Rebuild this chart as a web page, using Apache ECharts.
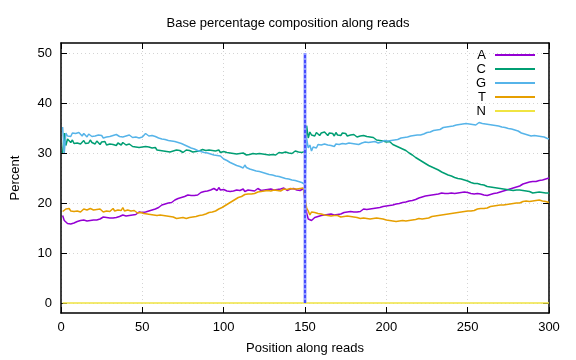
<!DOCTYPE html>
<html>
<head>
<meta charset="utf-8">
<script src="https://cdn.jsdelivr.net/npm/echarts@6/dist/echarts.min.js"></script>
<style>html,body{margin:0;padding:0;background:#fff}#c{width:576px;height:360px}</style>
</head>
<body>
<div id="c"></div>
<script>
const title = 'Base percentage composition along reads';
const xTicks = [0, 50, 100, 150, 200, 250, 300];
const yTicks = [0, 10, 20, 30, 40, 50];
const sepPosition = 150;
const sepRange = [0, 50];

const A = [
17.5,16.5,16.1,15.9,16.0,15.8,16.2,16.0,16.4,16.3,
16.1,16.5,16.2,16.6,16.3,16.4,16.8,16.5,16.7,16.6,
16.9,16.6,17.0,16.8,16.7,17.2,16.9,17.1,17.3,17.0,
17.2,17.0,17.4,17.1,17.5,17.3,17.2,17.6,17.3,17.4,
17.6,17.5,17.8,17.6,17.9,17.7,18.0,18.2,17.9,18.1,
18.3,18.2,18.5,18.4,18.7,18.6,18.9,18.8,19.2,19.1,
19.3,19.6,19.4,19.8,19.7,20.0,20.2,20.1,20.4,20.6,
20.5,20.9,20.8,21.1,21.0,21.3,21.2,21.6,21.4,21.5,
21.7,21.5,21.9,21.6,21.8,22.1,21.9,22.3,22.0,22.4,
22.2,22.6,22.3,22.9,22.7,22.5,23.1,22.6,22.8,22.7,
22.9,22.4,22.7,22.3,22.6,22.4,22.2,22.6,22.3,22.5,
22.4,22.8,22.3,22.4,22.6,22.2,22.5,22.8,22.4,22.7,
22.9,22.6,22.5,22.8,22.6,22.9,22.7,22.5,22.8,22.7,
22.6,22.9,22.7,22.5,22.8,22.6,23.0,22.7,22.5,22.7,
22.8,22.6,22.9,22.7,22.6,22.8,22.5,22.7,22.9,22.8,
18.0,16.8,16.6,16.5,16.8,17.1,16.9,17.3,17.1,17.5,
17.3,17.6,17.4,17.7,17.5,17.8,17.7,17.6,17.9,17.7,
18.0,17.8,17.9,18.1,17.8,18.2,18.0,18.3,18.1,18.2,
18.4,18.2,18.6,18.3,18.5,18.8,18.6,18.7,19.0,18.8,
19.1,18.9,19.2,19.0,19.3,19.1,19.4,19.3,19.6,19.4,
19.6,19.5,19.8,19.6,19.9,19.8,20.1,19.9,20.2,20.1,
20.3,20.2,20.5,20.4,20.6,20.5,20.8,20.7,20.9,21.0,
20.9,21.2,21.1,21.4,21.3,21.5,21.4,21.6,21.5,21.7,
21.6,21.8,21.7,22.0,21.8,21.9,22.1,21.9,22.2,22.0,
22.1,21.9,22.3,22.0,22.2,22.1,21.9,22.2,22.0,22.1,
22.2,21.9,22.0,21.8,21.7,21.9,21.6,21.8,21.5,21.6,
21.7,21.5,21.8,21.7,22.0,21.9,22.1,22.0,22.3,22.2,
22.5,22.4,22.7,22.6,22.9,22.8,23.1,23.0,23.3,23.2,
23.5,23.4,23.6,23.8,23.7,24.0,23.9,24.2,24.1,24.3,
24.5,24.3,24.6,24.5,24.8,24.6,24.9,24.8,25.1,25.0
];
const C = [
30.0,34.0,31.5,32.8,32.4,32.1,32.6,31.9,32.3,32.0,
32.4,31.8,32.2,32.5,31.9,32.3,32.0,32.6,32.1,32.2,
31.8,32.4,32.0,31.7,32.2,31.9,32.3,31.6,32.0,31.8,
32.1,31.7,31.9,31.5,32.0,31.8,31.6,32.1,31.7,31.6,
31.4,31.8,31.5,31.3,31.7,31.2,31.5,31.1,31.4,31.2,
31.0,31.3,30.9,31.2,30.8,31.0,30.7,31.1,30.6,30.8,
30.5,30.9,30.4,30.7,30.3,30.6,30.2,30.5,30.4,30.3,
30.6,30.2,30.5,30.3,30.1,30.4,30.6,30.2,30.5,30.4,
30.2,30.6,30.3,30.1,30.4,30.2,30.7,30.3,30.5,30.4,
30.6,30.2,30.5,30.8,30.4,30.3,30.6,30.1,30.4,30.3,
30.5,30.1,30.4,30.0,30.3,29.9,30.2,29.8,30.1,29.9,
29.7,30.0,29.8,29.6,30.0,29.7,29.5,29.9,29.6,29.8,
29.5,29.9,29.6,29.8,29.4,29.7,29.9,29.6,29.8,29.7,
30.0,29.6,29.9,30.1,29.8,30.0,29.7,30.2,29.9,30.0,
30.3,29.9,30.1,30.4,30.0,30.2,30.5,30.1,30.4,30.3,
35.5,33.0,34.2,33.6,33.9,33.4,34.1,33.7,33.5,34.0,
33.6,34.2,33.8,33.5,34.0,33.7,33.9,33.4,34.1,33.6,
33.8,33.5,34.0,33.7,33.9,33.4,33.8,33.6,33.3,33.7,
33.5,33.2,33.6,33.4,33.1,33.5,33.2,33.3,33.0,33.2,
32.9,33.1,32.8,32.6,32.9,32.5,32.7,32.4,32.5,32.2,
32.1,32.3,31.9,31.7,31.8,31.4,31.5,31.1,31.0,30.8,
30.6,30.5,30.1,30.0,29.7,29.6,29.2,29.1,28.8,28.7,
28.5,28.3,28.1,27.9,27.8,27.5,27.6,27.2,27.1,26.9,
26.8,26.6,26.5,26.2,26.1,25.9,25.8,25.6,25.5,25.4,
25.3,25.1,25.0,24.9,24.7,24.8,24.5,24.6,24.3,24.4,
24.2,24.1,24.0,23.9,23.8,23.9,23.6,23.7,23.5,23.6,
23.4,23.3,23.4,23.2,23.3,23.1,23.2,23.0,23.1,22.9,
23.0,22.8,22.9,22.7,22.8,22.6,22.8,22.5,22.7,22.6,
22.4,22.6,22.3,22.5,22.2,22.4,22.1,22.3,22.2,22.0,
22.3,22.1,22.0,22.2,21.9,22.1,21.8,22.0,21.9,22.0
];
const G = [
35.2,30.0,34.0,33.4,33.7,33.3,34.0,33.6,33.9,33.5,
34.1,33.7,33.4,33.9,33.6,33.2,33.8,33.5,33.3,33.7,
33.4,33.1,33.6,33.3,33.5,33.0,33.4,33.2,33.6,33.3,
33.1,33.5,33.2,33.7,33.4,33.3,33.6,33.2,33.5,33.4,
33.2,33.6,33.3,33.1,33.5,33.2,33.4,33.0,33.3,33.2,
33.5,33.9,34.1,33.4,33.2,33.5,33.1,33.3,32.9,33.0,
33.2,32.8,33.0,32.7,32.9,32.5,32.7,32.4,32.6,32.3,
32.4,32.1,32.2,31.9,32.0,31.6,31.7,31.3,31.4,31.0,
31.1,30.8,30.9,30.5,30.6,30.3,30.4,30.1,30.2,30.0,
30.1,29.8,29.9,29.6,29.7,29.5,29.3,29.4,29.0,28.8,
28.7,28.5,28.3,28.1,28.0,27.8,27.7,27.5,27.4,27.3,
27.2,27.0,27.6,27.1,26.9,26.8,26.9,26.6,26.7,26.4,
26.5,26.3,26.4,26.1,26.2,25.9,26.0,25.7,25.8,25.6,
25.7,25.4,25.5,25.3,25.4,25.1,25.2,24.9,25.0,24.8,
24.9,24.6,24.7,24.5,24.6,24.3,24.4,24.1,23.9,23.7,
33.0,31.0,31.6,30.4,31.2,31.5,31.0,31.7,31.3,31.6,
31.2,31.8,31.4,31.6,31.9,31.5,31.7,31.3,31.8,31.5,
31.7,31.4,31.9,31.6,31.8,31.5,32.0,31.7,31.9,31.6,
31.8,32.1,31.7,31.9,32.0,31.8,32.2,31.9,32.1,32.0,
32.2,31.9,32.3,32.1,32.0,32.4,32.2,32.3,32.5,32.3,
32.4,32.6,32.5,32.7,32.6,32.8,32.7,32.9,33.0,32.8,
33.1,33.0,33.2,33.1,33.4,33.3,33.5,33.4,33.6,33.7,
33.6,33.9,33.8,34.0,34.1,33.9,34.2,34.3,34.5,34.4,
34.6,34.8,34.7,34.9,35.1,34.9,35.2,35.0,35.3,35.2,
35.4,35.3,35.6,35.4,35.7,35.5,35.8,35.6,35.9,35.7,
35.8,36.0,35.7,35.9,35.6,35.8,36.1,35.7,35.9,35.6,
35.8,35.5,35.7,35.4,35.6,35.3,35.5,35.2,35.4,35.1,
35.2,34.9,35.1,34.8,34.9,34.6,34.8,34.5,34.6,34.3,
34.4,34.2,34.0,34.1,33.8,33.9,33.6,33.7,33.4,33.3,
33.5,33.2,33.4,33.1,33.3,33.6,33.2,33.0,32.9,32.8
];
const T = [
18.3,18.5,18.8,18.6,18.9,18.4,18.7,18.3,18.6,18.4,
18.7,18.2,18.5,18.8,18.4,18.6,18.3,18.9,18.5,18.6,
18.3,18.7,18.4,18.8,18.5,18.2,18.6,18.4,18.7,18.3,
18.5,18.9,18.4,18.2,18.6,18.3,18.5,19.1,18.4,18.3,
18.6,18.2,18.4,18.1,18.5,18.2,18.0,18.3,18.1,18.1,
17.9,18.2,17.8,18.0,17.7,17.9,17.6,17.8,17.5,17.4,
17.6,17.3,17.5,17.2,17.4,17.1,17.3,17.0,17.2,17.1,
16.9,17.2,17.0,17.3,17.1,17.2,16.9,17.3,17.1,17.3,
17.2,17.5,17.3,17.6,17.5,17.7,17.6,17.9,17.8,18.0,
18.1,18.3,18.2,18.5,18.4,18.7,18.8,19.0,19.1,19.3,
19.5,19.6,19.9,20.0,20.3,20.4,20.7,20.8,21.1,21.2,
21.3,21.5,21.7,21.6,21.8,22.0,21.8,22.1,21.9,22.0,
22.2,22.0,22.3,22.1,22.4,22.2,22.5,22.3,22.4,22.4,
22.6,22.3,22.5,22.7,22.4,22.6,22.8,22.5,22.7,22.6,
22.9,22.7,22.8,23.0,22.8,23.1,22.9,23.2,23.0,23.2,
19.0,18.4,17.6,18.2,17.8,18.1,17.7,17.9,17.6,17.8,
17.9,17.6,17.8,17.5,17.7,17.4,17.6,17.5,17.3,17.5,
17.4,17.2,17.5,17.3,17.1,17.4,17.2,17.3,17.0,17.2,
17.3,17.1,17.2,16.9,17.1,17.0,17.2,16.9,17.1,16.8,
17.0,16.9,16.7,17.0,16.8,16.9,16.6,16.8,16.7,16.6,
16.8,16.5,16.7,16.4,16.6,16.3,16.5,16.4,16.2,16.5,
16.6,16.4,16.7,16.5,16.8,16.6,16.9,16.7,16.8,16.9,
17.0,16.8,17.1,16.9,17.2,17.0,17.1,17.3,17.2,17.4,
17.3,17.5,17.4,17.6,17.5,17.7,17.6,17.8,17.7,17.9,
17.8,18.0,17.9,18.1,18.0,18.2,18.1,18.3,18.2,18.4,
18.5,18.4,18.6,18.5,18.7,18.8,18.7,18.9,19.0,18.9,
19.1,19.0,19.2,19.3,19.2,19.4,19.3,19.5,19.4,19.6,
19.7,19.6,19.8,19.7,19.9,19.8,20.0,19.9,20.1,20.0,
20.2,20.0,20.1,20.3,20.2,20.4,20.1,20.3,20.5,20.4,
20.2,20.5,20.3,20.6,20.7,20.4,20.6,20.3,20.2,20.1
];
const N = [
0,0,0,0,0,0,0,0,0,0,0,0,0,0,0,0,0,0,0,0,0,0,0,0,0,0,0,0,0,0,
0,0,0,0,0,0,0,0,0,0,0,0,0,0,0,0,0,0,0,0,0,0,0,0,0,0,0,0,0,0,
0,0,0,0,0,0,0,0,0,0,0,0,0,0,0,0,0,0,0,0,0,0,0,0,0,0,0,0,0,0,
0,0,0,0,0,0,0,0,0,0,0,0,0,0,0,0,0,0,0,0,0,0,0,0,0,0,0,0,0,0,
0,0,0,0,0,0,0,0,0,0,0,0,0,0,0,0,0,0,0,0,0,0,0,0,0,0,0,0,0,0,
0,0,0,0,0,0,0,0,0,0,0,0,0,0,0,0,0,0,0,0,0,0,0,0,0,0,0,0,0,0,
0,0,0,0,0,0,0,0,0,0,0,0,0,0,0,0,0,0,0,0,0,0,0,0,0,0,0,0,0,0,
0,0,0,0,0,0,0,0,0,0,0,0,0,0,0,0,0,0,0,0,0,0,0,0,0,0,0,0,0,0,
0,0,0,0,0,0,0,0,0,0,0,0,0,0,0,0,0,0,0,0,0,0,0,0,0,0,0,0,0,0,
0,0,0,0,0,0,0,0,0,0,0,0,0,0,0,0,0,0,0,0,0,0,0,0,0,0,0,0,0,0
];

const positions = A.map((_, i) => i + 1);
const pair = (vals) => vals.map((v, i) => [positions[i], v]);

const FONT = 'Liberation Sans';
const FS = 13;
const names = ['A', 'C', 'G', 'T', 'N'];
const colors = ['#9400d3', '#009e73', '#56b4e9', '#e69f00', '#f0e442'];
const seriesVals = [A, C, G, T, N];

const frame = { show: true, onZero: false, lineStyle: { color: '#000', width: 1.5 } };
const tick = { show: true, inside: true, length: 6, lineStyle: { color: '#000', width: 1 } };
const grid = { show: true, lineStyle: { color: '#d4d4d4', type: [1, 3], width: 1 } };

const chart = echarts.init(document.getElementById('c'), null, { renderer: 'canvas' });
chart.setOption({
  animation: false,
  backgroundColor: '#fff',
  title: {
    text: title, left: 'center', top: 12,
    textStyle: { fontFamily: FONT, fontSize: FS, fontWeight: 'normal', color: '#000' }
  },
  legend: {
    data: names, orient: 'vertical', right: 36, top: 43,
    align: 'right', icon: 'rect', itemWidth: 40, itemHeight: 2, itemGap: 0,
    textStyle: { fontFamily: FONT, fontSize: FS, color: '#000', lineHeight: 14, padding: [0, 4, 0, 0] },
    selectedMode: false
  },
  grid: { left: 61, right: 27, top: 43, bottom: 46 },
  xAxis: [{
    type: 'value', min: 0, max: 300, interval: 50, position: 'bottom',
    name: 'Position along reads', nameLocation: 'middle', nameGap: 29,
    nameTextStyle: { fontFamily: FONT, fontSize: FS, color: '#000' },
    axisLine: frame, axisTick: tick, splitLine: grid,
    axisLabel: { fontFamily: FONT, fontSize: FS, color: '#000', margin: 8 }
  }, {
    type: 'value', min: 0, max: 300, interval: 50, position: 'top',
    axisLine: frame, axisTick: tick, splitLine: { show: false }, axisLabel: { show: false }
  }],
  yAxis: [{
    type: 'value', min: -2, max: 52, position: 'left',
    name: 'Percent', nameLocation: 'middle', nameGap: 39,
    nameTextStyle: { fontFamily: FONT, fontSize: FS, color: '#000' },
    axisLine: frame,
    axisTick: Object.assign({ customValues: yTicks }, tick),
    splitLine: grid,
    axisLabel: { customValues: yTicks, fontFamily: FONT, fontSize: FS, color: '#000', margin: 9 }
  }, {
    type: 'value', min: -2, max: 52, position: 'right',
    axisLine: frame,
    axisTick: Object.assign({ customValues: yTicks }, tick),
    splitLine: { show: false },
    axisLabel: { show: false, customValues: yTicks }
  }],
  series: names.map((n, k) => ({
    name: n, type: 'line', data: pair(seriesVals[k]), showSymbol: false, symbol: 'none',
    lineStyle: { color: colors[k], width: 1.5 }, itemStyle: { color: colors[k] },
    silent: true
  })).concat([{
    name: 'sep-halo', type: 'line', data: sepRange.map(v => [sepPosition, v]), symbol: 'none',
    lineStyle: { color: '#8f9bff', width: 3 }, silent: true, z: 5
  }, {
    name: 'sep', type: 'line', data: sepRange.map(v => [sepPosition, v]), symbol: 'none',
    lineStyle: { color: '#0000ff', width: 1, type: [3, 2] }, silent: true, z: 6
  }])
});
</script>
</body>
</html>
